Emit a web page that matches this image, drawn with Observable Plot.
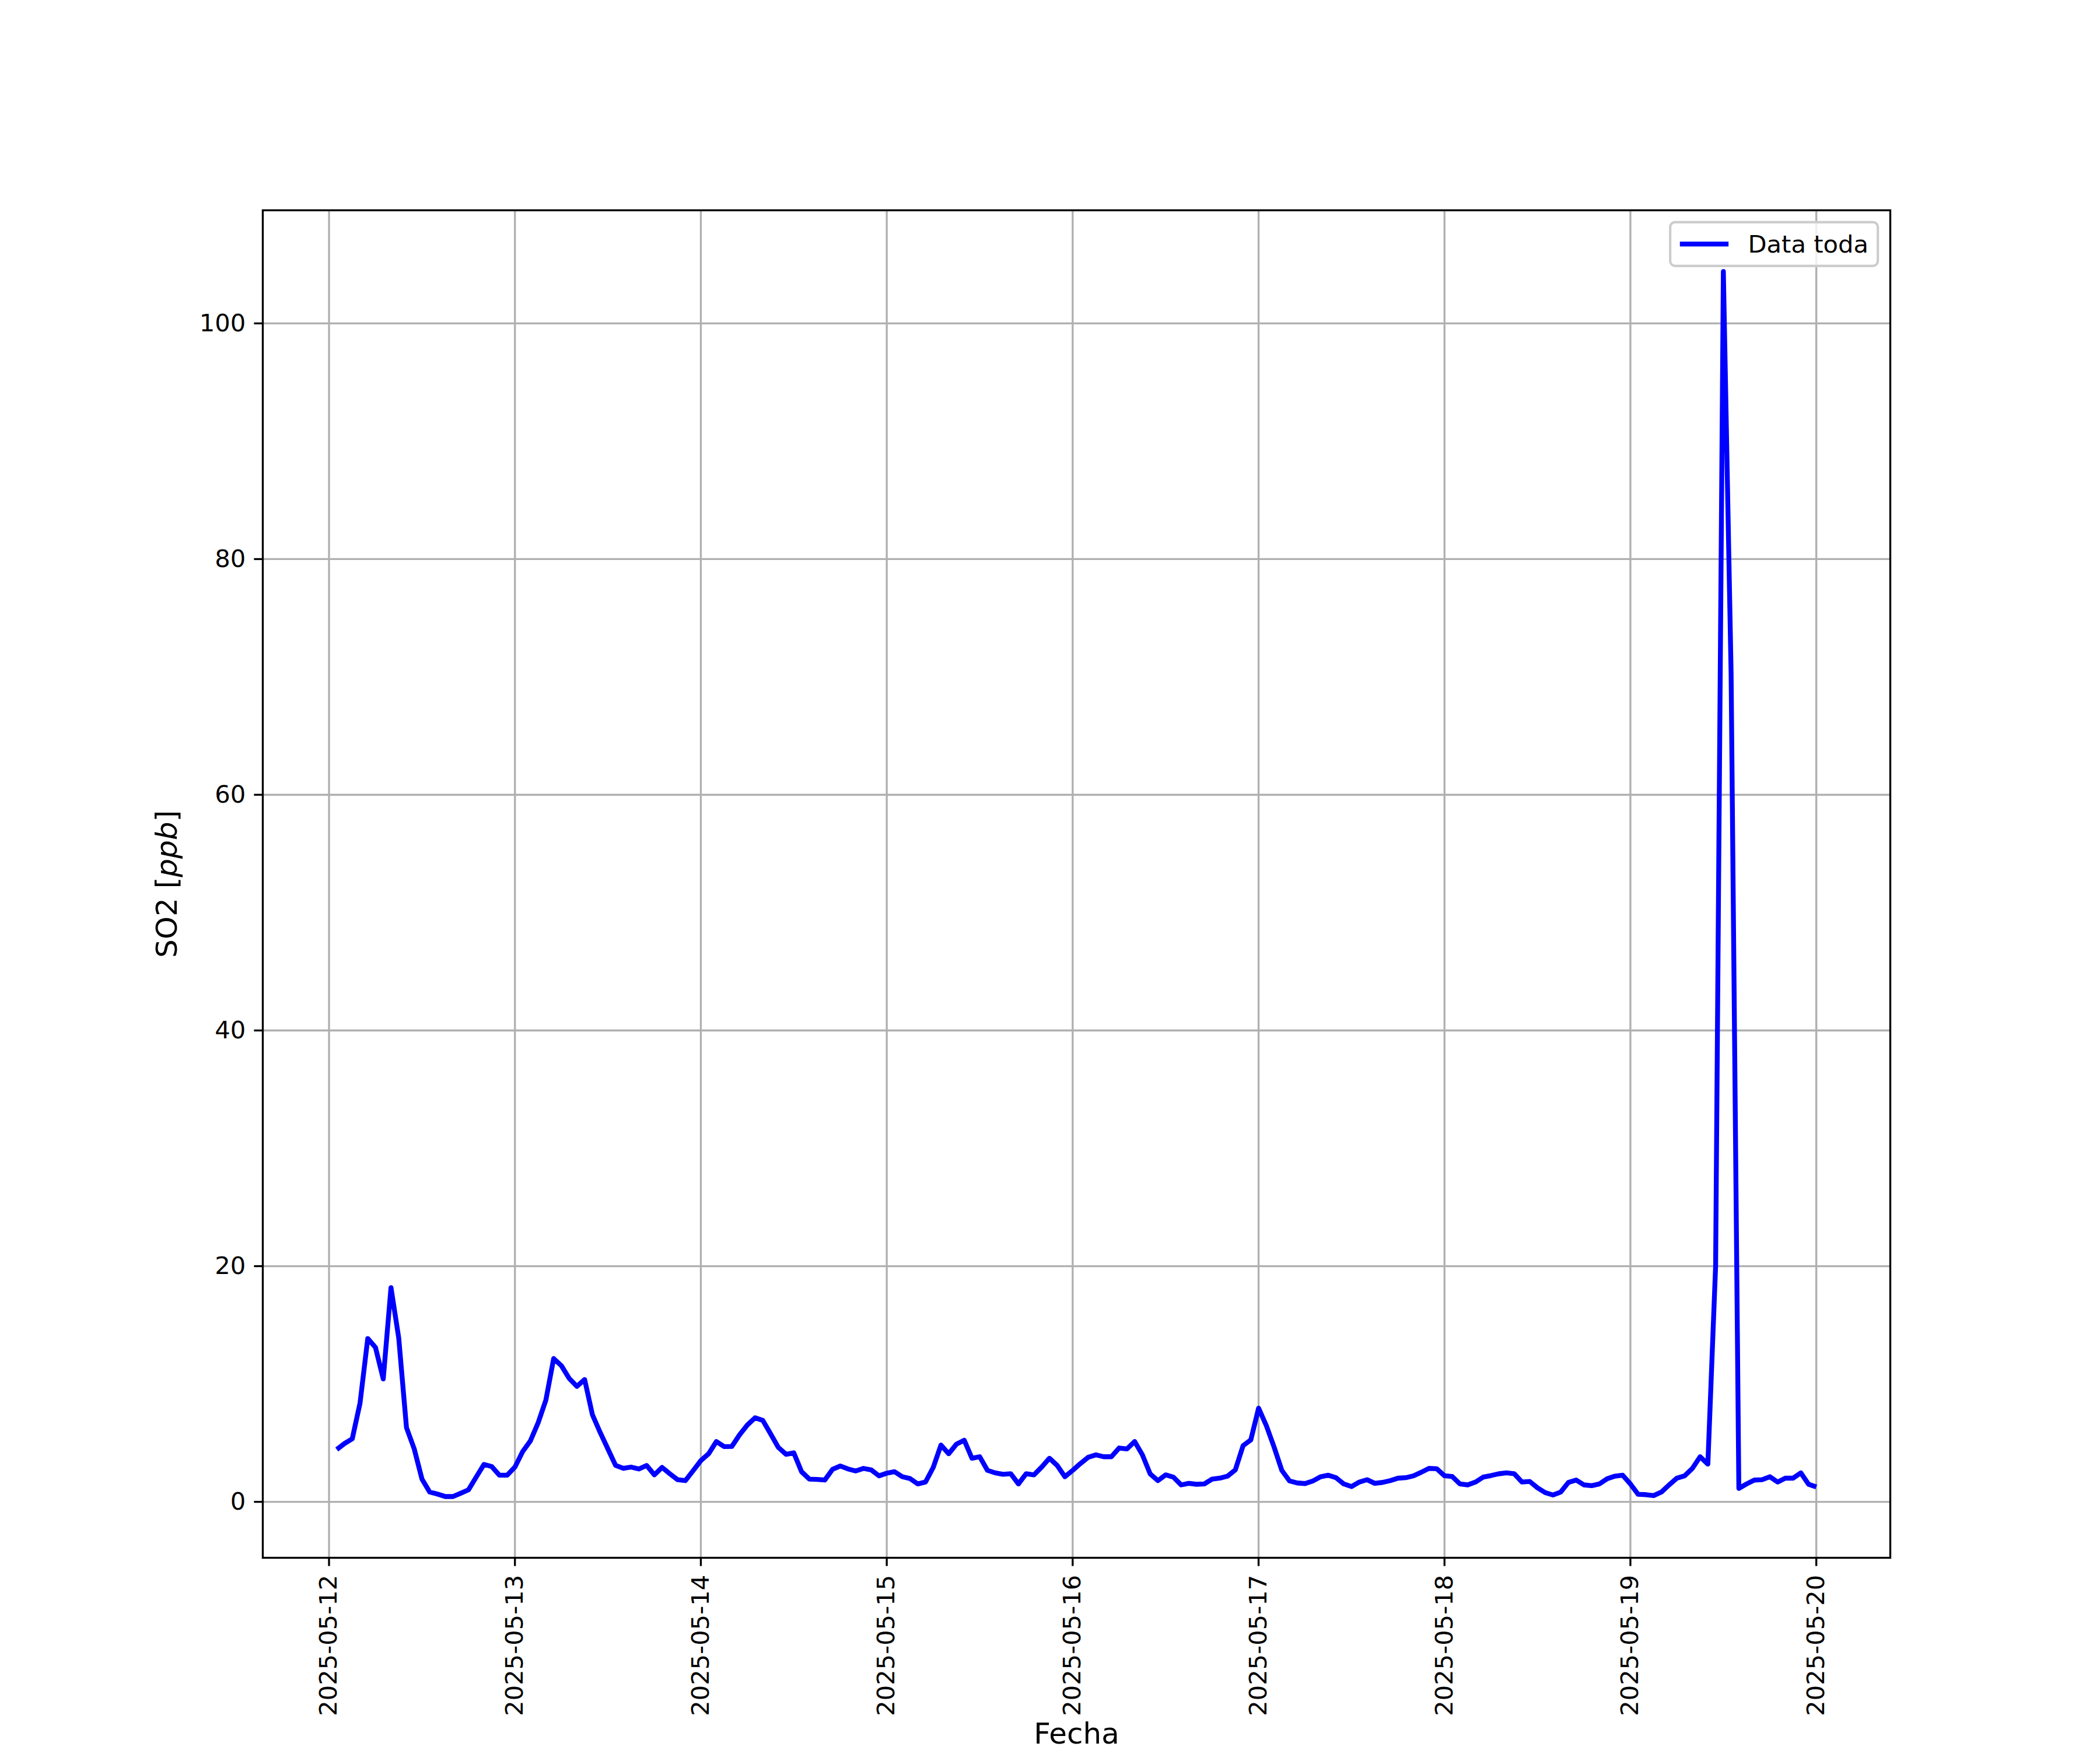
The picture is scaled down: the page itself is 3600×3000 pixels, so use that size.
<!DOCTYPE html>
<html>
<head>
<meta charset="utf-8">
<script src="https://cdn.jsdelivr.net/npm/d3@7"></script>
<script src="https://cdn.jsdelivr.net/npm/@observablehq/plot@0.6"></script>
<style>
html, body { margin: 0; padding: 0; background: #ffffff; }
</style>
</head>
<body>
<div id="chart"></div>
<script>
// ---- Data (hourly SO2, ppb) ----
const fechas = [
  "2025-05-12T01:00","2025-05-12T02:00","2025-05-12T03:00","2025-05-12T04:00","2025-05-12T05:00","2025-05-12T06:00","2025-05-12T07:00","2025-05-12T08:00","2025-05-12T09:00","2025-05-12T10:00","2025-05-12T11:00","2025-05-12T12:00","2025-05-12T13:00","2025-05-12T14:00","2025-05-12T15:00","2025-05-12T16:00","2025-05-12T17:00","2025-05-12T18:00","2025-05-12T19:00","2025-05-12T20:00","2025-05-12T21:00","2025-05-12T22:00","2025-05-12T23:00",
  "2025-05-13T00:00","2025-05-13T01:00","2025-05-13T02:00","2025-05-13T03:00","2025-05-13T04:00","2025-05-13T05:00","2025-05-13T06:00","2025-05-13T07:00","2025-05-13T08:00","2025-05-13T09:00","2025-05-13T10:00","2025-05-13T11:00","2025-05-13T12:00","2025-05-13T13:00","2025-05-13T14:00","2025-05-13T15:00","2025-05-13T16:00","2025-05-13T17:00","2025-05-13T18:00","2025-05-13T19:00","2025-05-13T20:00","2025-05-13T21:00","2025-05-13T22:00","2025-05-13T23:00",
  "2025-05-14T00:00","2025-05-14T01:00","2025-05-14T02:00","2025-05-14T03:00","2025-05-14T04:00","2025-05-14T05:00","2025-05-14T06:00","2025-05-14T07:00","2025-05-14T08:00","2025-05-14T09:00","2025-05-14T10:00","2025-05-14T11:00","2025-05-14T12:00","2025-05-14T13:00","2025-05-14T14:00","2025-05-14T15:00","2025-05-14T16:00","2025-05-14T17:00","2025-05-14T18:00","2025-05-14T19:00","2025-05-14T20:00","2025-05-14T21:00","2025-05-14T22:00","2025-05-14T23:00",
  "2025-05-15T00:00","2025-05-15T01:00","2025-05-15T02:00","2025-05-15T03:00","2025-05-15T04:00","2025-05-15T05:00","2025-05-15T06:00","2025-05-15T07:00","2025-05-15T08:00","2025-05-15T09:00","2025-05-15T10:00","2025-05-15T11:00","2025-05-15T12:00","2025-05-15T13:00","2025-05-15T14:00","2025-05-15T15:00","2025-05-15T16:00","2025-05-15T17:00","2025-05-15T18:00","2025-05-15T19:00","2025-05-15T20:00","2025-05-15T21:00","2025-05-15T22:00","2025-05-15T23:00",
  "2025-05-16T00:00","2025-05-16T01:00","2025-05-16T02:00","2025-05-16T03:00","2025-05-16T04:00","2025-05-16T05:00","2025-05-16T06:00","2025-05-16T07:00","2025-05-16T08:00","2025-05-16T09:00","2025-05-16T10:00","2025-05-16T11:00","2025-05-16T12:00","2025-05-16T13:00","2025-05-16T14:00","2025-05-16T15:00","2025-05-16T16:00","2025-05-16T17:00","2025-05-16T18:00","2025-05-16T19:00","2025-05-16T20:00","2025-05-16T21:00","2025-05-16T22:00","2025-05-16T23:00",
  "2025-05-17T00:00","2025-05-17T01:00","2025-05-17T02:00","2025-05-17T03:00","2025-05-17T04:00","2025-05-17T05:00","2025-05-17T06:00","2025-05-17T07:00","2025-05-17T08:00","2025-05-17T09:00","2025-05-17T10:00","2025-05-17T11:00","2025-05-17T12:00","2025-05-17T13:00","2025-05-17T14:00","2025-05-17T15:00","2025-05-17T16:00","2025-05-17T17:00","2025-05-17T18:00","2025-05-17T19:00","2025-05-17T20:00","2025-05-17T21:00","2025-05-17T22:00","2025-05-17T23:00",
  "2025-05-18T00:00","2025-05-18T01:00","2025-05-18T02:00","2025-05-18T03:00","2025-05-18T04:00","2025-05-18T05:00","2025-05-18T06:00","2025-05-18T07:00","2025-05-18T08:00","2025-05-18T09:00","2025-05-18T10:00","2025-05-18T11:00","2025-05-18T12:00","2025-05-18T13:00","2025-05-18T14:00","2025-05-18T15:00","2025-05-18T16:00","2025-05-18T17:00","2025-05-18T18:00","2025-05-18T19:00","2025-05-18T20:00","2025-05-18T21:00","2025-05-18T22:00","2025-05-18T23:00",
  "2025-05-19T00:00","2025-05-19T01:00","2025-05-19T02:00","2025-05-19T03:00","2025-05-19T04:00","2025-05-19T05:00","2025-05-19T06:00","2025-05-19T07:00","2025-05-19T08:00","2025-05-19T09:00","2025-05-19T10:00","2025-05-19T11:00","2025-05-19T12:00","2025-05-19T13:00","2025-05-19T14:00","2025-05-19T15:00","2025-05-19T16:00","2025-05-19T17:00","2025-05-19T18:00","2025-05-19T19:00","2025-05-19T20:00","2025-05-19T21:00","2025-05-19T22:00","2025-05-19T23:00",
  "2025-05-20T00:00"
];

const so2 = [
  // 05-12
  4.44,4.95,5.35,8.37,13.86,13.10,10.43,18.18,13.9,6.30,4.49,1.93,0.83,0.66,0.45,0.45,0.73,1.02,2.10,3.17,3.0,2.26,2.26,
  // 05-13
  2.95,4.27,5.18,6.72,8.65,12.16,11.55,10.48,9.8,10.38,7.4,5.89,4.49,3.09,2.84,2.95,2.79,3.09,2.29,2.92,2.38,1.88,1.80,2.64,
  // 05-14
  3.50,4.08,5.12,4.69,4.70,5.69,6.52,7.13,6.91,5.78,4.62,4.03,4.16,2.56,1.93,1.90,1.85,2.76,3.04,2.79,2.62,2.84,2.71,2.21,
  // 05-15
  2.43,2.56,2.13,1.98,1.52,1.68,2.92,4.82,4.08,4.90,5.23,3.70,3.83,2.67,2.46,2.34,2.39,1.52,2.39,2.29,2.95,3.70,3.09,2.13,
  // 05-16
  2.67,3.25,3.78,3.99,3.83,3.83,4.57,4.49,5.12,3.99,2.38,1.80,2.29,2.10,1.44,1.57,1.49,1.52,1.93,2.01,2.18,2.71,4.77,5.26,
  // 05-17
  7.95,6.47,4.65,2.67,1.77,1.60,1.55,1.77,2.13,2.26,2.05,1.52,1.30,1.68,1.88,1.57,1.65,1.80,2.01,2.05,2.21,2.51,2.84,2.81,
  // 05-18
  2.21,2.15,1.52,1.44,1.68,2.10,2.23,2.38,2.46,2.39,1.68,1.73,1.19,0.78,0.58,0.83,1.65,1.85,1.44,1.37,1.52,1.96,2.18,2.26,
  // 05-19
  1.52,0.64,0.61,0.53,0.83,1.44,2.01,2.21,2.84,3.83,3.20,20.0,104.4,70.3,1.14,1.52,1.85,1.88,2.13,1.68,2.01,2.01,2.46,1.49,
  // 05-20
  1.27
];

const xTickLabels = ["2025-05-12","2025-05-13","2025-05-14","2025-05-15","2025-05-16","2025-05-17","2025-05-18","2025-05-19","2025-05-20"];
const yTicks = [0, 20, 40, 60, 80, 100];
const serieNombre = "Data toda";
const xLabel = "Fecha";

// ---- Build ----
const parseT = d3.utcParse("%Y-%m-%dT%H:%M");
const parseD = d3.utcParse("%Y-%m-%d");
const data = fechas.map((f, i) => ({t: parseT(f), v: so2[i]}));
const xTicks = xTickLabels.map(parseD);

const pt = 300 / 72;          // matplotlib points -> px at 300 dpi
const fs = 10 * pt;           // 10pt tick / legend font
const fsLabel = 12 * pt;      // 12pt axis-label font
const lw = 0.8 * pt;          // axes/grid line width

const [tmin, tmax] = d3.extent(data, d => d.t);
const tR = tmax - tmin;
const [vmin, vmax] = d3.extent(data, d => d.v);
const vR = vmax - vmin;

const plot = Plot.plot({
  width: 3600,
  height: 3000,
  marginLeft: 450,
  marginRight: 360,
  marginTop: 360,
  marginBottom: 330,
  style: {fontFamily: "'DejaVu Sans'", fontSize: fs + "px", color: "black", background: "white", overflow: "visible"},
  x: {type: "utc", domain: [new Date(+tmin - 0.05 * tR), new Date(+tmax + 0.05 * tR)]},
  y: {domain: [vmin - 0.05 * vR, vmax + 0.05 * vR]},
  marks: [
    Plot.gridX(xTicks, {stroke: "#b0b0b0", strokeOpacity: 1, strokeWidth: lw}),
    Plot.gridY(yTicks, {stroke: "#b0b0b0", strokeOpacity: 1, strokeWidth: lw}),
    Plot.line(data, {x: "t", y: "v", stroke: "#0000ff", strokeWidth: 2 * pt, strokeLinejoin: "round", strokeLinecap: "butt"}),
    Plot.axisX(xTicks, {
      tickSize: 3.5 * pt, tickPadding: 3.5 * pt, strokeWidth: lw, tickRotate: -90,
      tickFormat: d3.utcFormat("%Y-%m-%d"), fontSize: fs,
      label: xLabel, labelAnchor: "center", labelOffset: 318, labelArrow: "none"
    }),
    Plot.axisY(yTicks, {
      tickSize: 3.5 * pt, tickPadding: 3.5 * pt, strokeWidth: lw, fontSize: fs,
      tickFormat: d => String(d),
      label: "SO2 [ppb]", labelAnchor: "center", labelOffset: 183, labelArrow: "none"
    }),
    Plot.frame({stroke: "black", strokeWidth: lw})
  ]
});

document.getElementById("chart").appendChild(plot);

const svg = d3.select(plot.tagName.toLowerCase() === "svg" ? plot : plot.querySelector("svg"));

// axis labels at 12pt
svg.selectAll('g[aria-label="x-axis label"], g[aria-label="y-axis label"]').attr("font-size", fsLabel);
svg.selectAll('g[aria-label="x-axis label"] text, g[aria-label="y-axis label"] text').attr("font-size", fsLabel);

// italic "ppb" as in matplotlib mathtext
const ylab = svg.select('g[aria-label="y-axis label"] text');
if (!ylab.empty()) {
  ylab.text(null);
  ylab.append("tspan").text("SO2 [");
  ylab.append("tspan").attr("font-style", "italic").text("ppb");
  ylab.append("tspan").text("]");
}

// legend (upper right, inside axes)
const xr = plot.scale("x").range;
const yr = plot.scale("y").range;
const axRight = Math.max(...xr), axTop = Math.min(...yr);
const pad = 0.5 * fs;
const boxW = 356, boxH = 75;
const bx = axRight - pad - boxW, by = axTop + pad;
const lg = svg.append("g").attr("aria-label", "legend");
lg.append("rect").attr("x", bx).attr("y", by).attr("width", boxW).attr("height", boxH)
  .attr("rx", 0.2 * fs).attr("ry", 0.2 * fs)
  .attr("fill", "white").attr("fill-opacity", 0.8)
  .attr("stroke", "#cccccc").attr("stroke-width", 1 * pt);
const hx = bx + 0.4 * fs, hy = by + boxH / 2;
lg.append("line").attr("x1", hx).attr("x2", hx + 2 * fs).attr("y1", hy).attr("y2", hy)
  .attr("stroke", "#0000ff").attr("stroke-width", 2 * pt);
lg.append("text").attr("x", hx + 2.8 * fs).attr("y", hy).attr("dy", "0.36em")
  .attr("text-anchor", "start")
  .attr("font-family", "'DejaVu Sans'").attr("font-size", fs).attr("fill", "black")
  .text(serieNombre);
</script>
</body>
</html>
